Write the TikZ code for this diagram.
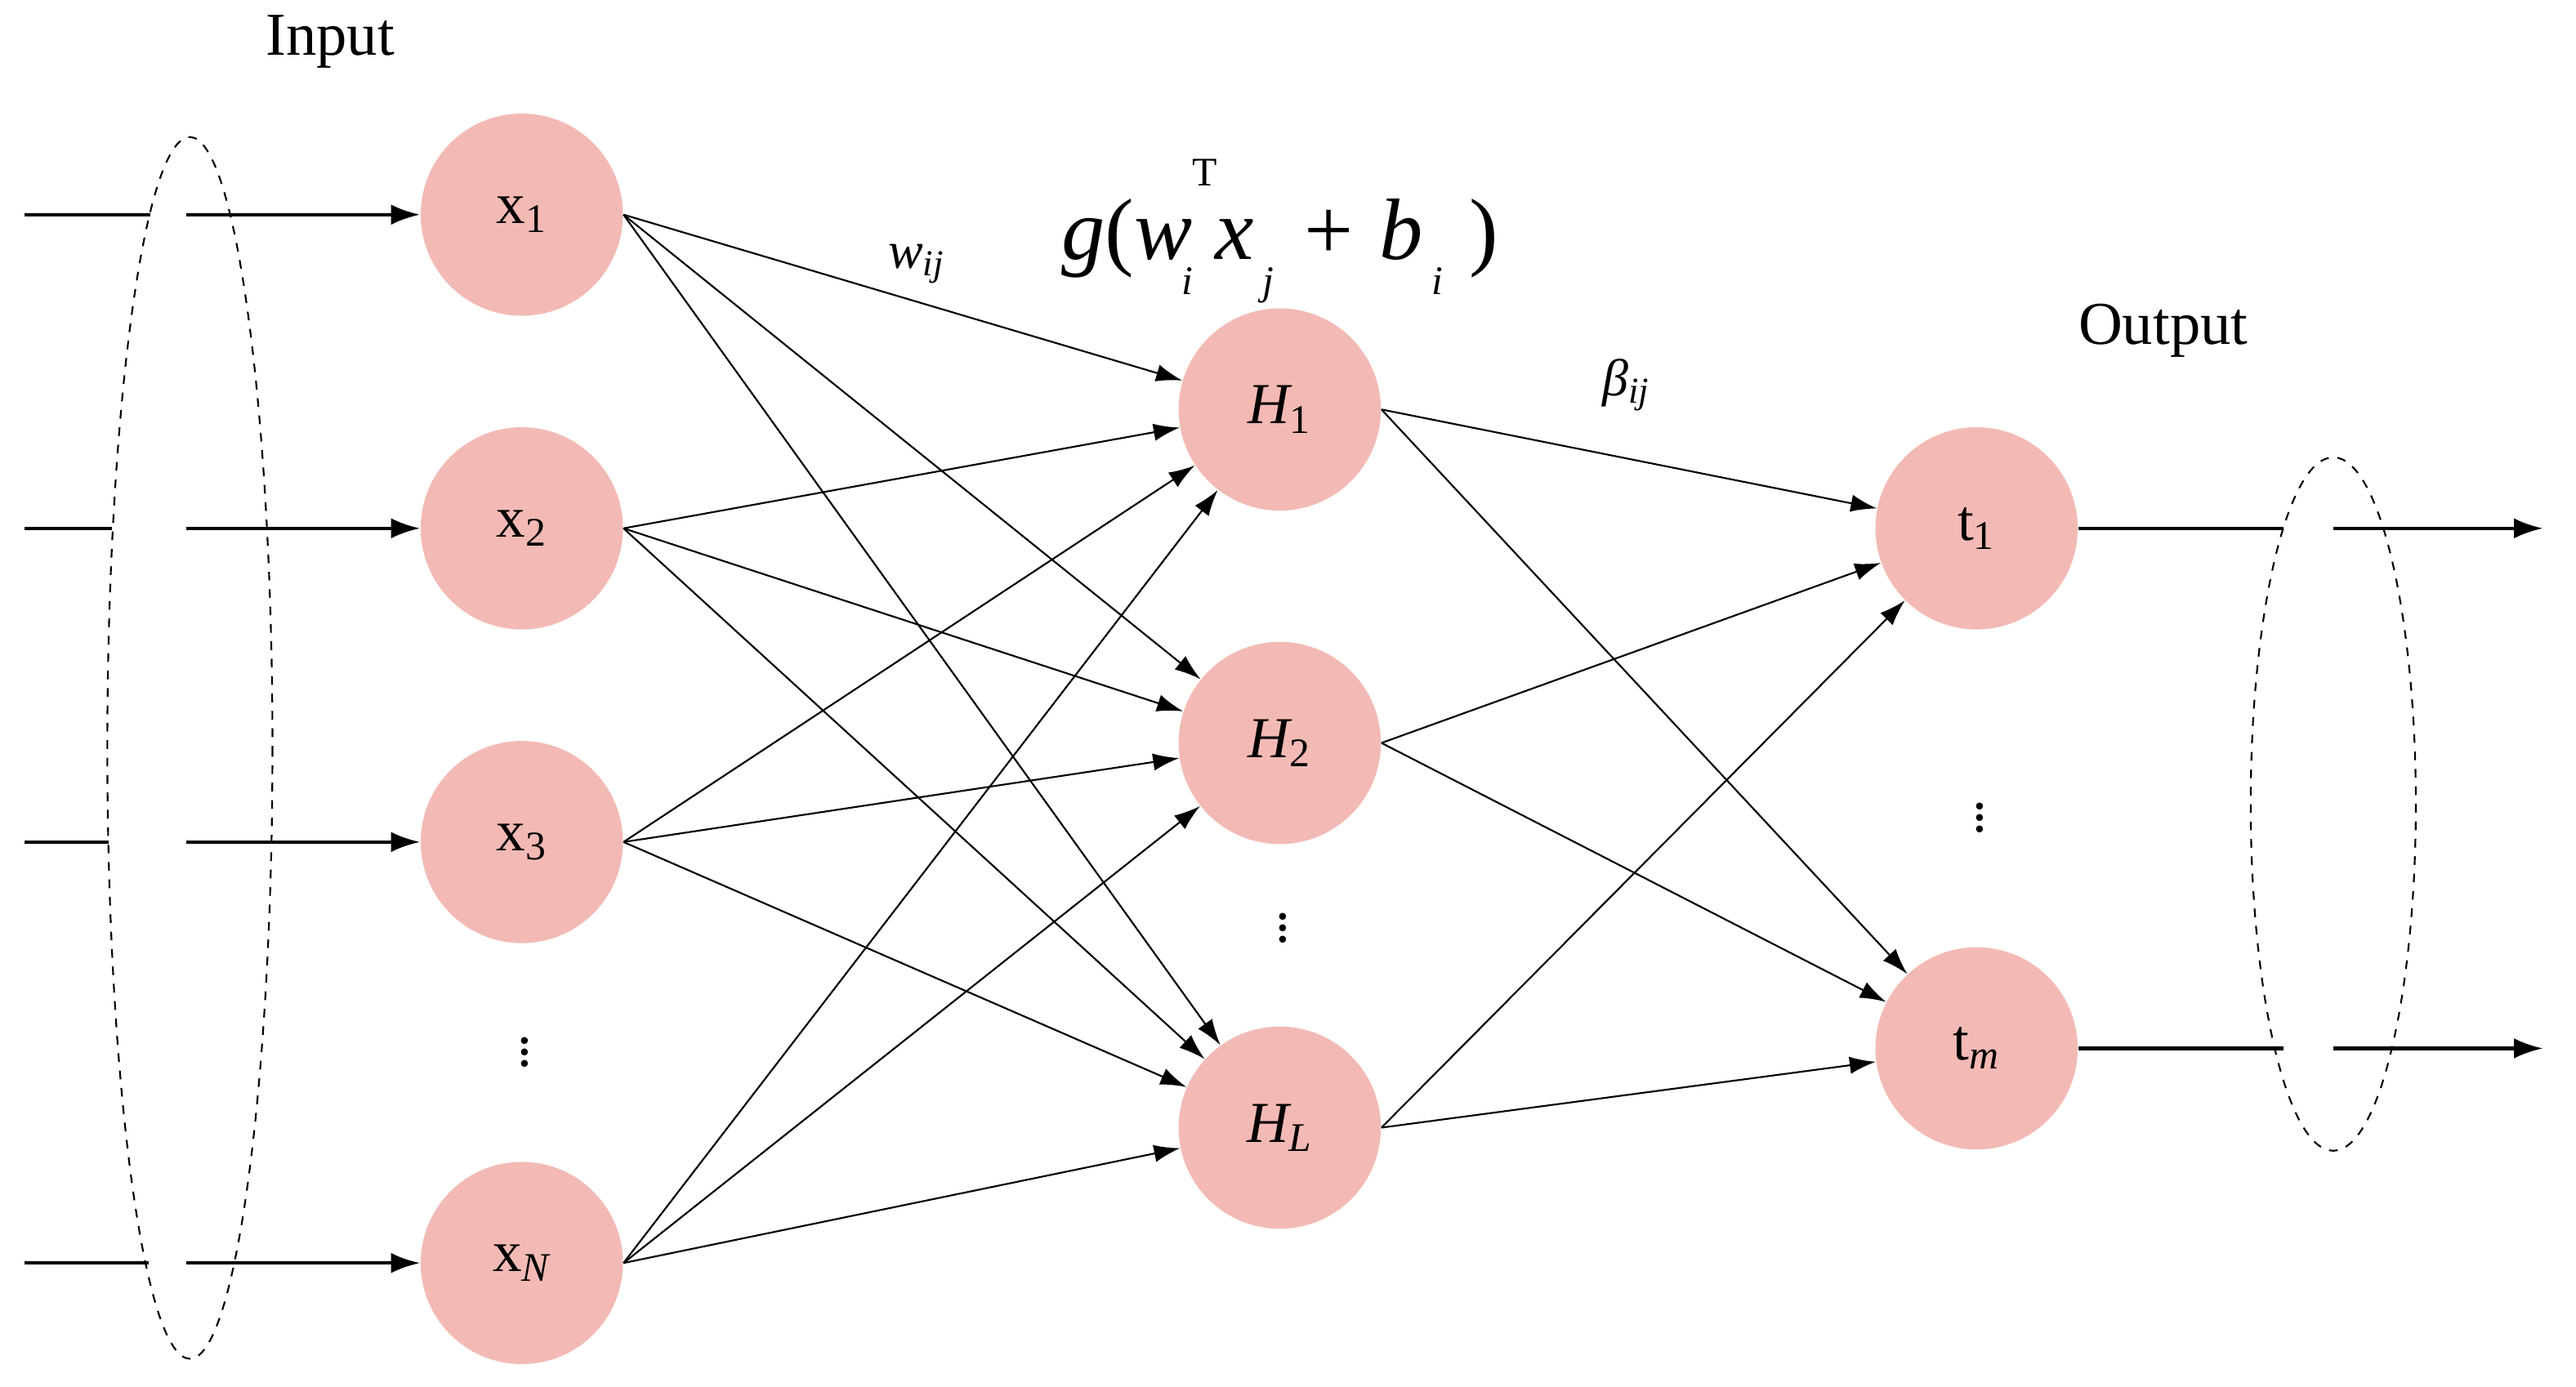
\documentclass[tikz,border=0pt]{standalone}
\usepackage{fontspec}
\setmainfont{Liberation Serif}
\usetikzlibrary{arrows.meta}
\newcommand{\lowsub}[1]{\raisebox{-0.4em}{\fontsize{14}{16}\selectfont #1}}
\begin{document}
\begin{tikzpicture}[x=0.02cm,y=-0.02cm,
  neuron/.style={circle,fill=nc,minimum size=2.45cm,inner sep=0pt,font=\fontsize{20}{22}\selectfont},
  con/.style={line width=0.6pt,-{Latex[length=9pt,width=6pt]}},
  thick/.style={line width=1.2pt},
  tarr/.style={line width=1.2pt,-{Latex[length=10pt,width=7pt]}},
  lab/.style={font=\fontsize{21}{24}\selectfont},
  dots/.style={font=\fontsize{20}{22}\selectfont}]
\definecolor{nc}{RGB}{243,186,181}
\useasboundingbox (0,0) rectangle (1560,840);
\node[neuron] (x1) at (316,130) {x\textsubscript{1}};
\node[neuron] (x2) at (316,320) {x\textsubscript{2}};
\node[neuron] (x3) at (316,510) {x\textsubscript{3}};
\node[neuron] (xN) at (316,765) {x\textsubscript{\itshape N}};
\node[dots] (d1) at (318,632) {$\vdots$};
\node[neuron] (H1) at (775,248) {\itshape H\textsubscript{\upshape 1}};
\node[neuron] (H2) at (775,450) {\itshape H\textsubscript{\upshape 2}};
\node[neuron] (HL) at (775,683) {\itshape H\textsubscript{L}};
\node[dots] (d2) at (777,557) {$\vdots$};
\node[neuron] (t1) at (1197,320) {t\textsubscript{1}};
\node[neuron] (tm) at (1197,635) {t\textsubscript{\itshape m}};
\node[dots] (d3) at (1199,490) {$\vdots$};
\draw[dashed,line width=0.6pt] (115,453) ellipse [x radius=50,y radius=370];
\draw[dashed,line width=0.6pt] (1413,487) ellipse [x radius=50,y radius=210];
\foreach \n/\y/\e in {x1/130/91,x2/320/68,x3/510/66,xN/765/90}{
  \coordinate (a\n) at (15,\y);
  \coordinate (b\n) at (\e,\y);
  \coordinate (c\n) at (113,\y);
  \draw[thick] (a\n) -- (b\n);
  \draw[tarr] (c\n) -- (\n);
}
\foreach \n/\y in {t1/320,tm/635}{
  \coordinate (p\n) at (1383,\y);
  \coordinate (q\n) at (1413,\y);
  \coordinate (r\n) at (1540,\y);
  \draw[thick] (\n.east) -- (p\n);
  \draw[tarr] (q\n) -- (r\n);
}
\foreach \s in {x1,x2,x3,xN}{
  \foreach \t in {H1,H2,HL}{
    \draw[con] (\s.east) -- (\t);
  }
}
\foreach \s in {H1,H2,HL}{
  \foreach \t in {t1,tm}{
    \draw[con] (\s.east) -- (\t);
  }
}
\node[lab] (in) at (200,25) {Input};
\node[lab] (out) at (1310,200) {Output};
\node[font=\fontsize{18}{20}\selectfont] (w) at (555,160) {\itshape w\textsubscript{ij}};
\node[font=\fontsize{18}{20}\selectfont] (b) at (985,233) {\itshape β\textsubscript{ij}};
\node[font=\fontsize{30}{34}\selectfont] (f) at (775,140) {\itshape g\upshape (\itshape w\raisebox{0.85em}{\upshape\fontsize{14}{16}\selectfont T}\kern-0.4em\lowsub{i}\kern0.25em x\kern0.1em\lowsub{j}\kern0.35em\upshape +\kern0.3em\itshape b\kern0.1em\lowsub{i}\kern0.3em\upshape )};
\end{tikzpicture}
\end{document}
